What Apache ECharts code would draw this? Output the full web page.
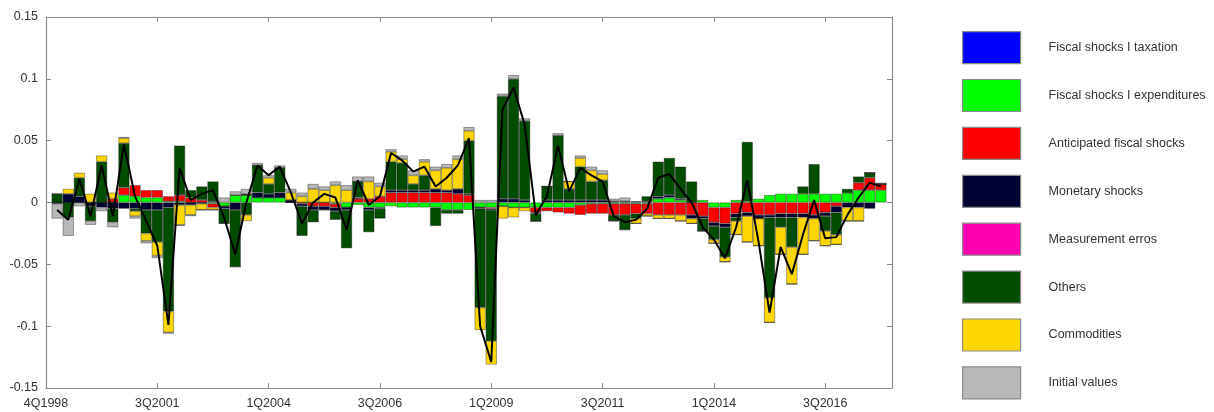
<!DOCTYPE html>
<html>
<head>
<meta charset="utf-8">
<script src="https://cdn.jsdelivr.net/npm/echarts@6/dist/echarts.min.js"></script>
<style>
  html, body { margin: 0; padding: 0; background: #fff; }
  #chart { width: 1214px; height: 412px; }
</style>
</head>
<body>
<div id="chart"></div>
<script>
// x ticks every 10 periods, starting at period 0
var tickLabels = ["4Q1998", "3Q2001", "1Q2004", "3Q2006", "1Q2009", "3Q2011", "1Q2014", "3Q2016"];

// contributions per quarter (periods 1..75)
var taxation = [
  0,0,0,0,0,0,0,0,0,0, 0,0,0,0,0,0,0,0,0,0, 0,0,0,0,0,0,0,0,0,0,
  0,0,0,0,0,0,0,0,0,0, 0,0,0,0,0,0,0,0,0,0, 0,0,0,0,0,0,0,0,0,0,
  0,0,0,0,0,0,0,0,0,0, 0,0,0,0,0
];
var expenditures = [
  0, 0, 0, 0, 0, 0, 0.006, 0.005, 0.004, 0.004,
  0.001, 0.001, 0, 0, -0.001, -0.003, 0.006, 0.006, 0.004, 0.004,
  0.004, 0, 0, 0, 0, -0.001, -0.004, -0.002, -0.004, -0.004,
  -0.003, -0.004, -0.004, -0.004, -0.004, -0.006, -0.006, -0.006, -0.004, -0.004,
  -0.003, -0.004, -0.004, -0.004, -0.004, -0.004, -0.004, -0.002, -0.001, -0.001,
  -0.001, -0.001, -0.001, -0.001, 0.003, 0.004, 0.002, 0, 0.002, -0.004,
  -0.004, 0.002, 0.001, 0.003, 0.006, 0.007, 0.007, 0.007, 0.007, 0.007,
  0.007, 0.008, 0.010, 0.010, 0.010
];
var anticipated = [
  0, 0, 0, 0, 0, 0.003, 0.006, 0.009, 0.006, 0.006,
  0.004, 0.005, 0.004, 0.002, -0.003, 0, 0, 0, 0, 0,
  0, 0, -0.001, -0.003, -0.003, -0.003, 0, 0.003, 0.003, 0.005,
  0.008, 0.008, 0.008, 0.008, 0.008, 0.008, 0.007, 0.006, 0, -0.001,
  0, 0, 0, -0.004, -0.003, -0.004, -0.005, -0.008, -0.008, -0.008,
  -0.009, -0.009, -0.008, -0.008, -0.010, -0.010, -0.010, -0.010, -0.011, -0.012,
  -0.013, -0.009, -0.008, -0.010, -0.010, -0.009, -0.009, -0.009, -0.010, -0.008,
  -0.003, 0, 0.006, 0.010, 0.005
];
var monetary = [
  -0.001, 0.007, 0.005, -0.003, -0.004, -0.005, -0.005, -0.005, -0.006, -0.006,
  -0.004, -0.002, -0.002, -0.001, 0.001, -0.002, -0.006, 0.001, 0.004, 0.003,
  0.004, 0.002, -0.002, -0.003, -0.003, -0.003, -0.002, 0.001, -0.002, -0.001,
  0.002, 0.002, 0.002, 0.002, 0.003, 0.002, 0.004, 0.001, -0.001, -0.001,
  0.003, 0.003, 0.002, -0.001, 0.002, 0.002, 0.002, 0.002, 0.002, 0.002,
  0.001, 0.001, 0.001, 0.001, 0.002, 0.002, 0.001, -0.003, -0.002, -0.003,
  -0.003, -0.003, -0.003, -0.003, -0.002, -0.003, -0.003, -0.003, -0.003, -0.003,
  -0.005, -0.004, -0.004, -0.005, 0
];
var measurement = [
  0,0,0,0,0,0,0,0,0,0, 0,0,0,0,0,0,0,0,0,0, 0,0,0,0,0,0,0,0,0,0,
  0,0,0,0,0,0,0,0,0,0, 0,0,0,0,0,0,0,0,0,0, 0,0,0,0,0,0,0,0,0,0,
  0,0,0,0,0,0,0,0,0,0, 0,0,0,0,0
];
var others = [
  0.007, -0.012, 0.015, -0.012, 0.033, -0.011, 0.036, -0.002, -0.019, -0.026,
  -0.084, 0.040, 0.006, 0.011, 0.016, -0.012, -0.046, -0.010, 0.022, 0.008,
  0.020, 0, -0.024, -0.010, 0, -0.007, -0.031, 0.013, -0.018, -0.008,
  0.023, 0.022, 0.005, 0.012, -0.015, -0.003, -0.003, 0.043, -0.080, -0.106,
  0.083, 0.097, 0.064, -0.006, 0.011, 0.052, 0.009, 0.027, 0.015, 0.016,
  -0.005, -0.012, -0.004, 0.004, 0.028, 0.030, 0.026, 0.017, -0.010, -0.011,
  -0.024, -0.003, 0.048, 0, -0.065, -0.008, -0.024, 0.006, 0.024, -0.012,
  -0.018, 0.003, 0.005, 0.004, 0
];
var commodities = [
  0, 0.004, 0.004, 0.007, 0.005, 0.005, 0.004, -0.004, -0.006, -0.011,
  -0.017, -0.016, -0.008, -0.005, -0.002, 0, 0, -0.005, 0, 0.005,
  0, 0.006, 0.005, 0.011, 0.010, 0.014, 0.010, 0, 0.014, 0.008,
  0.008, 0.003, 0.007, 0.011, 0.015, 0.018, 0.024, 0.008, -0.018, -0.019,
  -0.010, -0.008, -0.003, 0, 0, 0, 0.006, 0.007, 0.009, 0.005,
  0, 0, -0.004, -0.002, -0.003, -0.003, -0.005, -0.004, 0, -0.003,
  -0.004, -0.011, -0.021, -0.022, -0.020, -0.022, -0.030, -0.030, -0.018, -0.012,
  -0.008, -0.011, -0.011, 0, 0
];
var initialValues = [
  -0.012, -0.015, -0.003, -0.003, -0.003, -0.004, 0.001, -0.002, -0.002, -0.002,
  -0.001, -0.001, -0.001, 0, 0, 0.004, 0.003, 0.004, 0.002, 0.002,
  0.002, 0.003, 0.003, 0.004, 0.003, 0.003, 0.004, 0.004, 0.004, 0.003,
  0.002, 0.003, 0.004, 0.002, 0.003, 0.003, 0.003, 0.003, 0.002, 0.002,
  0.002, 0.003, 0.002, 0, 0, 0.002, 0, 0.002, 0.003, 0.003,
  0.002, 0.003, 0, 0, 0, 0, 0, 0, 0, 0,
  0, 0, 0, 0, 0, 0, 0, 0, 0, 0,
  0, 0, 0, 0, 0.001
];
// black line: total
var total = [
  -0.006, -0.014, 0.019, -0.011, 0.030, -0.011, 0.047, 0.005, -0.015, -0.035,
  -0.099, 0.028, 0.002, 0.007, 0.010, -0.012, -0.042, 0.000, 0.030, 0.022,
  0.029, 0.008, -0.017, 0.000, 0.007, 0.004, -0.022, 0.018, -0.002, 0.005,
  0.040, 0.034, 0.025, 0.029, 0.013, 0.020, 0.030, 0.052, -0.100, -0.129,
  0.075, 0.093, 0.063, -0.010, 0.005, 0.046, 0.009, 0.028, 0.022, 0.017,
  -0.011, -0.016, -0.014, -0.005, 0.020, 0.023, 0.011, 0.000, -0.020, -0.030,
  -0.045, -0.020, 0.018, -0.031, -0.089, -0.036, -0.058, -0.026, 0.002, -0.029,
  -0.028, -0.010, 0.004, 0.016, 0.013
];

var names = [
  "Fiscal shocks I taxation", "Fiscal shocks I expenditures", "Anticipated fiscal shocks",
  "Monetary shocks", "Measurement erros", "Others", "Commodities", "Initial values"
];
var colors = ["#0000ff", "#00ff00", "#ff0000", "#000033", "#ff00b0", "#004d00", "#ffd700", "#b8b8b8"];
var blocks = [taxation, expenditures, anticipated, monetary, measurement, others, commodities, initialValues];

var fontFamily = "'Liberation Sans', Arial, sans-serif";
var axisColor = "#8c8c8c";

// category slots 0..76: slot 0 and 76 are the axis ends, periods sit on 1..75
var slots = [];
for (var s = 0; s <= 76; s++) {
    slots.push(s % 10 === 0 && tickLabels[s / 10] ? tickLabels[s / 10] : "p" + s);
}
function toSlots(arr) {
    return [null].concat(arr);
}

var series = blocks.map(function (arr, k) {
    var empty = arr.every(function (v) { return v === 0; });
    return {
        name: names[k],
        type: "bar",
        stack: "decomp",
        barWidth: 11.1,
        data: toSlots(arr),
        itemStyle: {
            color: colors[k],
            borderColor: "rgba(20,20,20,0.55)",
            borderWidth: empty ? 0 : 0.7
        }
    };
});
series.push({
    name: "total",
    type: "line",
    data: toSlots(total),
    symbol: "none",
    z: 5,
    lineStyle: { color: "#000", width: 2 }
});

function xAxisDef(pos, showLabels) {
    return {
        type: "category",
        position: pos,
        data: slots,
        boundaryGap: false,
        axisLine: { onZero: false, lineStyle: { color: axisColor, width: 1.2 } },
        axisTick: { inside: true, length: 5, interval: 9, lineStyle: { color: axisColor } },
        splitLine: { show: false },
        axisLabel: {
            show: showLabels,
            interval: 9,
            color: "#333",
            fontSize: 12.5,
            fontFamily: fontFamily,
            margin: 9,
            formatter: function (v) { return v.charAt(0) === "p" ? "" : v; }
        }
    };
}
function yAxisDef(pos, showLabels) {
    return {
        type: "value",
        position: pos,
        min: -0.15,
        max: 0.15,
        interval: 0.05,
        axisLine: { show: true, onZero: false, lineStyle: { color: axisColor, width: 1.2 } },
        axisTick: { show: true, inside: true, length: 5, lineStyle: { color: axisColor } },
        splitLine: { show: false },
        axisLabel: { show: showLabels, color: "#333", fontSize: 12.5, fontFamily: fontFamily, margin: 8 }
    };
}

var chart = echarts.init(document.getElementById("chart"));
chart.setOption({
    animation: false,
    grid: { left: 46, right: 322, top: 17, bottom: 24 },
    legend: {
        data: names,
        orient: "vertical",
        left: 962,
        top: 31,
        padding: 0,
        itemWidth: 58,
        itemHeight: 32,
        itemGap: 14.7,
        icon: "rect",
        selectedMode: false,
        itemStyle: { borderColor: "#8a8a8a", borderWidth: 1.2 },
        textStyle: {
            color: "#333",
            fontSize: 12.5,
            fontFamily: fontFamily,
            padding: [0, 0, 0, 23]
        }
    },
    xAxis: [xAxisDef("bottom", true), xAxisDef("top", false)],
    yAxis: [yAxisDef("left", true), yAxisDef("right", false)],
    series: series
});
</script>
</body>
</html>
